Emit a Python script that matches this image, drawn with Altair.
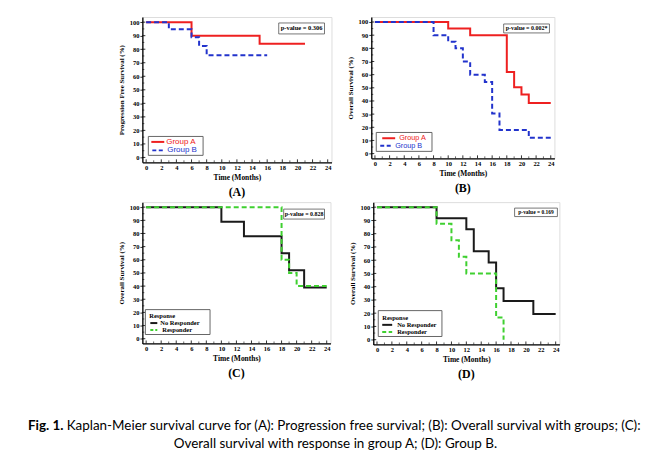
import altair as alt
import pandas as pd

SERIF = "Liberation Serif"
SANS = "Liberation Sans"
CAPF = "Lato"

# ---------------- data ----------------
# (A) Progression free survival
A_time_grpA = [0, 6, 15, 21]
A_surv_grpA = [100, 90, 84, 84]
A_time_grpB = [0, 3, 6, 7, 8, 16]
A_surv_grpB = [100, 94.7, 88.9, 82.4, 75.5, 75.5]
# (B) Overall survival with groups
B_time_grpA = [0, 10, 13, 18, 19, 20, 21, 24]
B_surv_grpA = [100, 95, 90, 62, 50.5, 45, 38.5, 38.5]
B_time_grpB = [0, 8, 10, 11, 12, 13, 15, 16, 17, 21, 24]
B_surv_grpB = [100, 90, 85, 80, 70, 60, 54.5, 30.5, 18, 12, 12]
# (C) Overall survival with response in group A
C_time_nr = [0, 10, 13, 18, 19, 21, 24]
C_surv_nr = [100, 88.9, 77.8, 65, 52, 39, 39]
C_time_r = [0, 18, 19, 20, 24]
C_surv_r = [100, 60, 50, 40, 40]
# (D) Group B
D_time_nr = [0, 8, 12, 13, 15, 16, 17, 21, 24]
D_surv_nr = [100, 91.7, 83.3, 66.7, 58.3, 38.9, 29.2, 19.4, 19.4]
D_time_r = [0, 8, 10, 11, 12, 16, 17]
D_surv_r = [100, 87.5, 75, 62.5, 50, 16.7, 0]

group_labels = ["Group A", "Group B"]
response_labels = ["No Responder", "Responder"]
legend_title_resp = "Response"
p_values = ["p-value = 0.306", "p-value = 0.002*", "p-value = 0.828", "p-value = 0.169"]
panel_labels = ["(A)", "(B)", "(C)", "(D)"]
y_titles = ["Progression Free Survival (%)", "Overall Survival (%)",
            "Overall Survival (%)", "Overall Survival (%)"]
x_title = "Time (Months)"
x_major = list(range(0, 25, 2))
x_minor = list(range(1, 25, 2))
y_major = list(range(0, 101, 10))
y_minor = list(range(5, 101, 10))
caption_bold = "Fig. 1."
caption_line1 = "Kaplan-Meier survival curve for (A): Progression free survival; (B): Overall survival with groups; (C):"
caption_line2 = "Overall survival with response in group A; (D): Group B."

RED = "#ee2020"
BLUE = "#2233cc"
GREEN = "#3fd030"
BLACK = "#1a1a1a"

XS = alt.Scale(domain=[-0.5, 24.5], nice=False, zero=False)
YS = alt.Scale(domain=[-3.6, 103.8], nice=False, zero=False)


def make_panel(series, width, height, ytitle, pval, pbox, legend, label):
    xaxis = alt.Axis(values=x_major, title=x_title, ticks=False, grid=False,
                     labelFont=SERIF, labelFontWeight="bold", labelFontSize=6.5,
                     labelColor="black", labelPadding=2,
                     titleFont=SERIF, titleFontWeight="bold", titleFontSize=7.5,
                     titleColor="black", titlePadding=3,
                     domainColor="black", domainWidth=1.3, labelFlush=False)
    yaxis = alt.Axis(values=y_major, title=ytitle, ticks=True, tickSize=2.5,
                     tickColor="black", tickWidth=0.8, grid=False,
                     labelFont=SERIF, labelFontWeight="bold", labelFontSize=6.5,
                     labelColor="black", labelPadding=1,
                     titleFont=SERIF, titleFontWeight="bold", titleFontSize=7,
                     titleColor="black", titlePadding=5,
                     domainColor="black", domainWidth=1.3, labelFlush=False)
    X = alt.X("time:Q", scale=XS, axis=xaxis)
    Y = alt.Y("surv:Q", scale=YS, axis=yaxis)

    layers = []
    for times, survs, color, dash in series:
        df = pd.DataFrame({"time": times, "surv": survs})
        mk = dict(interpolate="step-after", color=color, strokeWidth=2)
        if dash:
            mk["strokeDash"] = dash
        layers.append(alt.Chart(df).mark_line(**mk).encode(x=X, y=Y))

    # inward ticks
    tx = pd.DataFrame({"time": x_major})
    txm = pd.DataFrame({"time": x_minor})
    ty = pd.DataFrame({"surv": y_major})
    tym = pd.DataFrame({"surv": y_minor})
    layers.append(alt.Chart(tx).mark_rule(color="black", strokeWidth=0.8).encode(
        x=X, y=alt.value(height), y2=alt.value(height - 3)))
    layers.append(alt.Chart(txm).mark_rule(color="black", strokeWidth=0.6).encode(
        x=X, y=alt.value(height), y2=alt.value(height - 2)))
    layers.append(alt.Chart(ty).mark_rule(color="black", strokeWidth=0.8).encode(
        y=Y, x=alt.value(0), x2=alt.value(3)))
    layers.append(alt.Chart(tym).mark_rule(color="black", strokeWidth=0.6).encode(
        y=Y, x=alt.value(0), x2=alt.value(2)))

    one = pd.DataFrame({"k": [0]})
    # p-value box
    x0, x1, y0, y1, fs = pbox
    layers.append(alt.Chart(one).mark_rect(fill="white", stroke="#555", strokeWidth=0.8).encode(
        x=alt.value(x0), x2=alt.value(x1), y=alt.value(y0), y2=alt.value(y1)))
    layers.append(alt.Chart(one).mark_text(font=SERIF, fontWeight="bold", fontSize=fs,
                                           color="black", align="center", baseline="middle").encode(
        x=alt.value((x0 + x1) / 2), y=alt.value((y0 + y1) / 2), text=alt.value(pval)))

    # legend
    bx0, bx1, by0, by1 = legend["box"]
    layers.append(alt.Chart(one).mark_rect(fill="white", stroke="#666", strokeWidth=1).encode(
        x=alt.value(bx0), x2=alt.value(bx1), y=alt.value(by0), y2=alt.value(by1)))
    if legend.get("title"):
        tx0, ty0, ttext = legend["title"]
        layers.append(alt.Chart(one).mark_text(font=SERIF, fontWeight="bold", fontSize=6.5,
                                               color="black", align="left", baseline="middle").encode(
            x=alt.value(tx0), y=alt.value(ty0), text=alt.value(ttext)))
    for (lx0, lx1, ly, tx0, text, color, dash, tcolor, font, fs) in legend["rows"]:
        mk = dict(color=color, strokeWidth=2)
        if dash:
            mk["strokeDash"] = dash
        layers.append(alt.Chart(one).mark_rule(**mk).encode(
            x=alt.value(lx0), x2=alt.value(lx1), y=alt.value(ly)))
        layers.append(alt.Chart(one).mark_text(font=font, fontWeight="bold" if font == SERIF else "normal",
                                               fontSize=fs, color=tcolor, align="left",
                                               baseline="middle").encode(
            x=alt.value(tx0), y=alt.value(ly), text=alt.value(text)))

    return alt.layer(*layers).properties(
        width=width, height=height,
        title=alt.TitleParams(label, orient="bottom", font=SERIF, fontWeight="bold",
                              fontSize=12, offset=6, anchor="middle", color="black"))


panelA = make_panel(
    [(A_time_grpA, A_surv_grpA, RED, None), (A_time_grpB, A_surv_grpB, BLUE, [5, 3])],
    190, 146, y_titles[0], p_values[0], (137, 183, 6, 17, 6.5),
    {"box": (6, 61, 120, 139),
     "rows": [(9, 22, 125.5, 24, group_labels[0], RED, None, RED, SANS, 8),
              (10, 21, 134, 25, group_labels[1], BLUE, [4, 2.5], BLUE, SANS, 8)]},
    panel_labels[0])

panelB = make_panel(
    [(B_time_grpA, B_surv_grpA, RED, None), (B_time_grpB, B_surv_grpB, BLUE, [5, 3])],
    184, 142, y_titles[1], p_values[1], (133, 179, 7, 16, 6),
    {"box": (5, 61, 116, 135),
     "rows": [(11, 24, 121.8, 28, group_labels[0], RED, None, RED, SANS, 7.3),
              (9, 21, 129.3, 24, group_labels[1], BLUE, [4, 2.5], BLUE, SANS, 7.3)]},
    panel_labels[1])

panelC = make_panel(
    [(C_time_nr, C_surv_nr, BLACK, None), (C_time_r, C_surv_r, GREEN, [5, 3])],
    189, 142, y_titles[2], p_values[2], (142, 183, 7, 17, 6),
    {"box": (3, 68, 108, 133), "title": (7, 114.5, legend_title_resp),
     "rows": [(8, 15, 121.5, 18, response_labels[0], BLACK, None, "black", SERIF, 6.5),
              (8, 15, 128.5, 20, response_labels[1], GREEN, [3, 2], "black", SERIF, 6.5)]},
    panel_labels[2])

panelD = make_panel(
    [(D_time_nr, D_surv_nr, BLACK, None), (D_time_r, D_surv_r, GREEN, [5, 3])],
    187, 143, y_titles[3], p_values[3], (142, 185, 6, 14.5, 5.5),
    {"box": (5, 69, 109, 135), "title": (9, 116, legend_title_resp),
     "rows": [(9, 19, 123.3, 24, response_labels[0], BLACK, None, "black", SERIF, 6.5),
              (9, 19, 130.6, 24, response_labels[1], GREEN, [4, 2.5], "black", SERIF, 6.5)]},
    panel_labels[3])

one = pd.DataFrame({"k": [0]})
noview = alt.ViewBackground(strokeOpacity=0)


def spacer(w):
    return alt.Chart(one).mark_point(opacity=0).encode(
        x=alt.value(0), y=alt.value(0)).properties(width=w, height=10, view=noview)


row1 = alt.hconcat(spacer(88), panelA, panelB, spacing=13)
row2 = alt.hconcat(spacer(85), panelC, panelD, spacing=16)

cap_x0 = 12
cap_fs = 13.5
cap_bold_w = 39
caption = alt.layer(
    alt.Chart(one).mark_text(font=CAPF, fontWeight="bold", fontSize=cap_fs, color="black",
                             align="left", baseline="middle").encode(
        x=alt.value(cap_x0), y=alt.value(45), text=alt.value(caption_bold)),
    alt.Chart(one).mark_text(font=CAPF, fontSize=cap_fs, color="black",
                             align="left", baseline="middle").encode(
        x=alt.value(cap_x0 + cap_bold_w), y=alt.value(45), text=alt.value(caption_line1)),
    alt.Chart(one).mark_text(font=CAPF, fontSize=cap_fs, color="black",
                             align="center", baseline="middle").encode(
        x=alt.value(321), y=alt.value(63), text=alt.value(caption_line2)),
).properties(width=630, height=70, view=noview)

chart = alt.vconcat(row1, row2, caption, spacing=0).properties(
    padding={"left": 5, "top": 5, "right": 0, "bottom": 0}
).configure_view(stroke="#444", strokeWidth=1).configure(background="white")

chart.save("out.html", embed_options={"renderer": "svg", "actions": False})
